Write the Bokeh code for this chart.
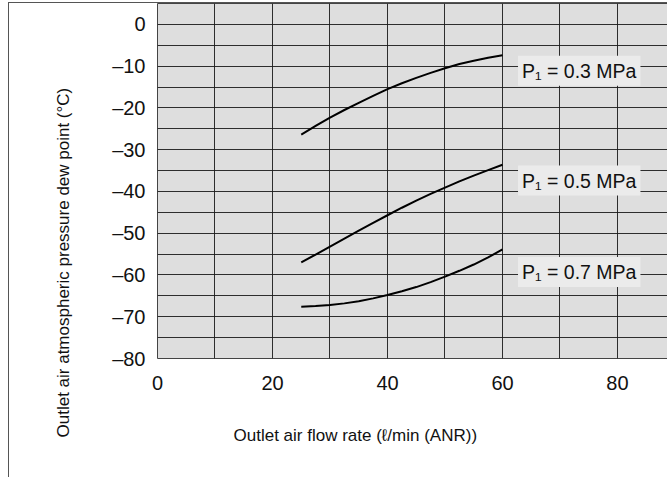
from bokeh.plotting import figure
from bokeh.models import FixedTicker, Label, Range1d, Title
from bokeh.embed import file_html
from bokeh.resources import INLINE

# ---- data ----
flow = [25, 27.5, 30, 32.5, 35, 37.5, 40, 42.5, 45, 47.5, 50, 52.5, 55, 57.5, 60]
dew_03 = [-26.4, -24.3, -22.3, -20.5, -18.8, -17.1, -15.5, -14.1, -12.8,
          -11.6, -10.5, -9.5, -8.7, -8.0, -7.4]
dew_05 = [-57.0, -55.1, -53.2, -51.3, -49.4, -47.5, -45.7, -43.9, -42.2,
          -40.6, -39.1, -37.6, -36.2, -34.9, -33.6]
dew_07 = [-67.6, -67.45, -67.2, -66.8, -66.3, -65.6, -64.8, -63.9, -62.9,
          -61.7, -60.4, -59.0, -57.5, -55.8, -53.9]
series_labels = ["P\u2081 = 0.3 MPa", "P\u2081 = 0.5 MPa", "P\u2081 = 0.7 MPa"]
x_ticks = [0, 20, 40, 60, 80]
y_ticks = [0, -10, -20, -30, -40, -50, -60, -70, -80]
y_tick_labels = ["0", "\u201310", "\u201320", "\u201330", "\u201340",
                 "\u201350", "\u201360", "\u201370", "\u201380"]
x_title = "Outlet air flow rate (\u2113/min (ANR))"
y_title = "Outlet air atmospheric pressure dew point (\u00b0C)"

FONT = "Liberation Sans"
W, H = 659, 475

p = figure(width=W, height=H, output_backend="svg", toolbar_location=None,
           x_range=Range1d(0, 88.87), y_range=Range1d(-80, 5),
           min_border_left=148, min_border_right=0, min_border_top=0,
           min_border_bottom=120)
p.background_fill_color = "#dedede"
p.border_fill_color = "white"
p.outline_line_color = "#444444"
p.styles = {"margin-left": "8px", "margin-top": "2px",
            "border-left": "1px solid #555555",
            "border-top": "1px solid #555555"}

# grids
p.xgrid.ticker = FixedTicker(ticks=list(range(0, 100, 10)))
p.ygrid.ticker = FixedTicker(ticks=list(range(-80, 10, 5)))
for g in (p.xgrid, p.ygrid):
    g.grid_line_color = "#1a1a1a"
    g.grid_line_alpha = 0.9
    g.grid_line_width = 1

# axes
p.xaxis.ticker = FixedTicker(ticks=x_ticks)
p.yaxis.ticker = FixedTicker(ticks=y_ticks)
p.yaxis.major_label_overrides = {t: s for t, s in zip(y_ticks, y_tick_labels)}
for ax in (p.xaxis, p.yaxis):
    ax.axis_line_color = None
    ax.major_tick_line_color = None
    ax.minor_tick_line_color = None
    ax.major_tick_out = 0
    ax.major_tick_in = 0
    ax.minor_tick_out = 0
    ax.major_label_text_font = FONT
    ax.major_label_text_font_size = "20px"
    ax.major_label_text_color = "#111111"
p.xaxis.major_label_standoff = 17
p.yaxis.major_label_standoff = 12

# curves
for ys in (dew_03, dew_05, dew_07):
    p.line(flow, ys, line_color="black", line_width=2, line_join="round")

# curve labels
label_y = [-11.1, -37.4, -59.3]
for txt, ly in zip(series_labels, label_y):
    p.add_layout(Label(x=62.7, y=ly, text=txt, text_font=FONT,
                       text_font_size="19.5px", text_color="#111111",
                       text_align="left", text_baseline="middle",
                       background_fill_color="#ebebeb", padding=4))

# axis titles
p.add_layout(Title(text=x_title, align="left", offset=76, standoff=64,
                   vertical_align="middle", text_font=FONT,
                   text_font_size="17px", text_font_style="normal",
                   text_color="#111111"), "below")
p.add_layout(Title(text=y_title, align="left", offset=-79, standoff=72,
                   vertical_align="middle", text_font=FONT,
                   text_font_size="17px", text_font_style="normal",
                   text_color="#111111"), "left")

open("out.html", "w").write(file_html(p, INLINE))
